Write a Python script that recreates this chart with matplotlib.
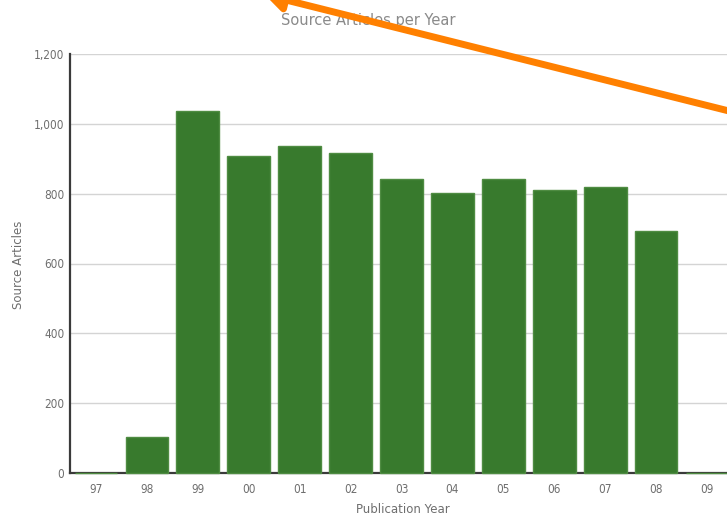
import matplotlib.pyplot as plt
from matplotlib.patches import FancyArrowPatch
from matplotlib.ticker import FuncFormatter

years = ['97', '98', '99', '00', '01', '02', '03', '04', '05', '06', '07', '08', '09']
articles = [0, 102, 1036, 907, 937, 916, 842, 801, 842, 810, 818, 692, 0]

green = '#387a2d'
grey_text = '#6e6e6e'

plt.rcParams['font.family'] = ['DejaVu Sans']

W, H = 727, 517
fig = plt.figure(figsize=(W / 100, H / 100), dpi=100)
fig.patch.set_facecolor('white')

# axes box in pixels: left 70, right ~733, top 54, bottom 473
ax = fig.add_axes([70 / W, (H - 473) / H, (733 - 70) / W, (473 - 54) / H])

x = list(range(len(years)))
ax.bar(x, articles, width=0.84, color=green, edgecolor='#4f8c42',
       linewidth=1.0, zorder=3, clip_on=False)

ax.set_ylim(0, 1200)
ax.set_xlim(-0.51, len(years) - 0.49)
ax.set_yticks(range(0, 1201, 200))
ax.yaxis.set_major_formatter(FuncFormatter(lambda v, p: f'{int(v):,}'))
ax.set_xticks(x)
ax.set_xticklabels(years)

ax.grid(axis='y', color='#d4d4d4', linewidth=1.0, zorder=0)
ax.set_axisbelow(True)
for s in ['top', 'right']:
    ax.spines[s].set_visible(False)
for s in ['left', 'bottom']:
    ax.spines[s].set_color('#3a3a3a')
    ax.spines[s].set_linewidth(1.6)
    ax.spines[s].set_zorder(2)

ax.tick_params(axis='both', length=0, colors=grey_text, labelsize=8.5)
ax.tick_params(axis='y', pad=4)
ax.tick_params(axis='x', pad=7)
for lab in ax.get_xticklabels() + ax.get_yticklabels():
    lab.set_fontstretch('condensed')

ax.set_ylabel('Source Articles', color=grey_text, fontsize=8.5)
ax.set_xlabel('Publication Year', color=grey_text, fontsize=8.5)
ax.yaxis.set_label_coords(-45 / (733 - 70), (473 - 265) / (473 - 54))
ax.xaxis.set_label_coords((403 - 70) / (733 - 70), -(503 - 473) / (473 - 54))

fig.text(368 / W, 1 - 20 / H, 'Source Articles per Year', ha='center',
         va='center', color='#8a8a8a', fontsize=10.5)

# orange annotation arrow overlaid on the screenshot
fig.patches.append(FancyArrowPatch(
    (745 / W, 1 - 115 / H), (262 / W, 1 + 6 / H),
    transform=fig.transFigure, arrowstyle='-|>,head_length=0.9,head_width=0.55',
    mutation_scale=12, color='#ff8000', linewidth=5, zorder=10))

fig.savefig('out.png', dpi=100, facecolor='white')
